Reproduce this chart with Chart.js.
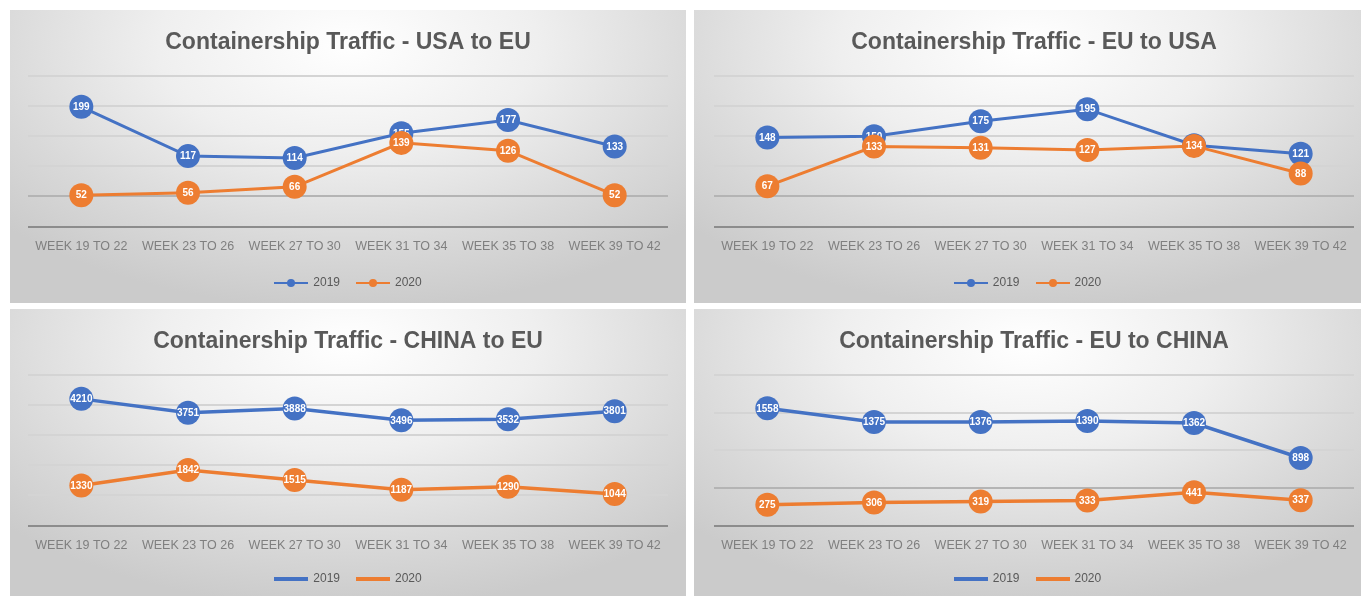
<!DOCTYPE html>
<html>
<head>
<meta charset="utf-8">
<script src="https://cdn.jsdelivr.net/npm/chart.js@4.4.1/dist/chart.umd.min.js"></script>
<style>
  html, body { margin: 0; padding: 0; background: #fff; overflow: hidden; }
  body { width: 1361px; height: 596px; position: relative; font-family: 'Liberation Sans', Arial, sans-serif; }
  .panel {
    position: absolute;
    height: 293px;
    background: radial-gradient(ellipse 70% 90% at 50% 12%, #ffffff 0%, #efefef 40%, #d9d9d9 75%, #cbcbcb 100%);
  }
  .legend {
    position: absolute; left: 0; right: 0; text-align: center;
    font-size: 12px; color: #595959; line-height: 14px;
  }
  .item { display: inline-block; margin: 0 8px; }
  .mark { display: inline-block; position: relative; width: 34px; vertical-align: middle; margin-right: 5px; }
  .mark .ln { position: absolute; left: 0; right: 0; top: 50%; }
  .mark .dot { position: absolute; left: 13px; width: 8px; height: 8px; border-radius: 50%; top: 50%; margin-top: -4px; }
</style>
</head>
<body>
<div class="panel" style="left:10px;top:10px;width:676px"><canvas id="c1"></canvas><div class="legend" id="l1"></div></div>
<div class="panel" style="left:694px;top:10px;width:667px"><canvas id="c2"></canvas><div class="legend" id="l2"></div></div>
<div class="panel" style="left:10px;top:309px;width:676px"><canvas id="c3"></canvas><div class="legend" id="l3"></div></div>
<div class="panel" style="left:694px;top:309px;width:667px"><canvas id="c4"></canvas><div class="legend" id="l4"></div></div>
<script>
const weeks = ['WEEK 19 TO 22', 'WEEK 23 TO 26', 'WEEK 27 TO 30', 'WEEK 31 TO 34', 'WEEK 35 TO 38', 'WEEK 39 TO 42'];
const years = ['2019', '2020'];

const usaEu2019 = [199, 117, 114, 155, 177, 133];
const usaEu2020 = [52, 56, 66, 139, 126, 52];
const euUsa2019 = [148, 150, 175, 195, 135, 121];
const euUsa2020 = [67, 133, 131, 127, 134, 88];
const chinaEu2019 = [4210, 3751, 3888, 3496, 3532, 3801];
const chinaEu2020 = [1330, 1842, 1515, 1187, 1290, 1044];
const euChina2019 = [1558, 1375, 1376, 1390, 1362, 898];
const euChina2020 = [275, 306, 319, 333, 441, 337];

const blue = '#4472C4';
const orange = '#ED7D31';

Chart.defaults.font.family = "'Liberation Sans', Arial, sans-serif";
Chart.defaults.color = '#595959';

// value written inside each marker
const pointLabels = {
  id: 'pointLabels',
  afterDatasetDraw(chart, args) {
    const ctx = chart.ctx;
    const ds = chart.data.datasets[args.index];
    ctx.save();
    ctx.fillStyle = '#ffffff';
    ctx.font = "bold 10px 'Liberation Sans', Arial, sans-serif";
    ctx.textAlign = 'center';
    ctx.textBaseline = 'middle';
    args.meta.data.forEach((pt, i) => {
      ctx.fillText(ds.data[i], pt.x, pt.y + 0.5);
    });
    ctx.restore();
  }
};

function buildLegend(id, lw, top, withDot) {
  const el = document.getElementById(id);
  el.style.top = top + 'px';
  [blue, orange].forEach((c, i) => {
    const dot = withDot ? '<span class="dot" style="background:' + c + '"></span>' : '';
    el.innerHTML += '<span class="item"><span class="mark" style="height:10px"><span class="ln" style="height:' + lw +
      'px;margin-top:' + (-lw / 2) + 'px;background:' + c + '"></span>' + dot + '</span>' + years[i] + '</span>';
  });
}

function makeChart(id, title, s2019, s2020, yMax, yStep, darkLine, padL, padR, lw) {
  new Chart(document.getElementById(id), {
    type: 'line',
    data: {
      labels: weeks,
      datasets: [
        { label: years[0], data: s2019, borderColor: blue, backgroundColor: blue,
          borderWidth: lw, pointRadius: 12, pointHoverRadius: 12, pointBorderWidth: 0, order: 1 },
        { label: years[1], data: s2020, borderColor: orange, backgroundColor: orange,
          borderWidth: lw, pointRadius: 12, pointHoverRadius: 12, pointBorderWidth: 0, order: 0 }
      ]
    },
    plugins: [pointLabels],
    options: {
      responsive: true,
      maintainAspectRatio: false,
      animation: false,
      layout: { autoPadding: false, padding: { left: padL, right: padR, top: 0, bottom: 36.5 } },
      plugins: {
        title: {
          display: true, text: title, color: '#595959',
          font: { size: 23, weight: 'bold' },
          padding: { top: 18.5, bottom: 20 }
        },
        legend: { display: false },
        tooltip: { enabled: false }
      },
      scales: {
        x: {
          offset: true,
          grid: { display: false, drawTicks: false },
          border: { display: false },
          ticks: { color: '#7f7f7f', font: { size: 12.5 }, padding: 12.5, maxRotation: 0, autoSkip: false }
        },
        y: {
          min: 0, max: yMax,
          ticks: { display: false, stepSize: yStep },
          border: { display: false },
          grid: {
            drawTicks: false, lineWidth: 2,
            color: (c) => c.tick.value === 0 ? '#8c8c8c' : (c.tick.value === darkLine ? '#b4b4b4' : '#d4d4d4')
          }
        }
      }
    }
  });
}

makeChart('c1', 'Containership Traffic - USA to EU', usaEu2019, usaEu2020, 250, 50, 50, 18, 18, 3);
makeChart('c2', 'Containership Traffic - EU to USA', euUsa2019, euUsa2020, 250, 50, 50, 20, 7, 3);
makeChart('c3', 'Containership Traffic - CHINA to EU', chinaEu2019, chinaEu2020, 5000, 1000, null, 18, 18, 3.5);
makeChart('c4', 'Containership Traffic - EU to CHINA', euChina2019, euChina2020, 2000, 500, 500, 20, 7, 3.5);

buildLegend('l1', 2, 265, true);
buildLegend('l2', 2, 265, true);
buildLegend('l3', 4, 262, false);
buildLegend('l4', 4, 262, false);
</script>
</body>
</html>
